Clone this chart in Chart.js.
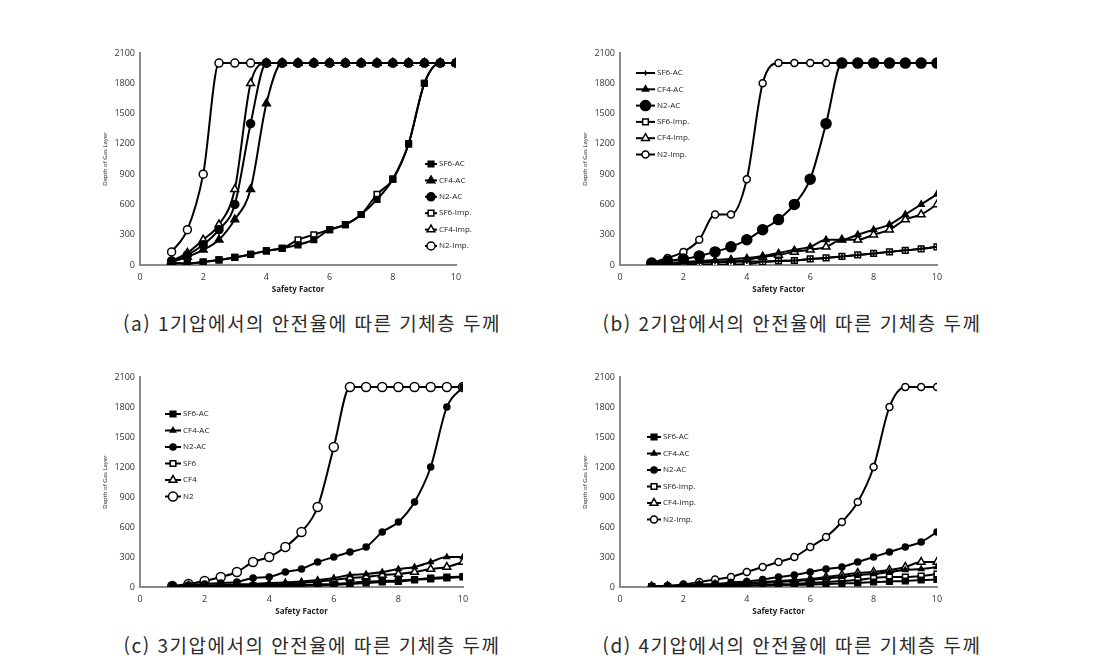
<!DOCTYPE html>
<html lang="ko">
<head>
  <meta charset="UTF-8" />
  <title>안전율에 따른 기체층 두께</title>
  <script src="https://cdn.jsdelivr.net/npm/chart.js"></script>
  <style>
    body { margin: 0; width: 1111px; height: 664px; background: #fff; position: relative; overflow: hidden; }
    .panel { position: absolute; }
    #pa { left: 100px; top: 40px; width: 380px; height: 262px; }
    #pb { left: 580px; top: 40px; width: 381px; height: 262px; }
    #pc { left: 100px; top: 364px; width: 387px; height: 260px; }
    #pd { left: 580px; top: 364px; width: 381px; height: 260px; }
    .caption {
      position: absolute; width: 480px; text-align: center;
      font-family: "Noto Sans CJK KR", sans-serif; font-size: 19px; font-weight: 400;
      letter-spacing: 1.5px; color: #2a2a2a;
    }
  </style>
</head>
<body>
  <div class="panel" id="pa"><canvas id="chartA"></canvas></div>
  <div class="panel" id="pb"><canvas id="chartB"></canvas></div>
  <div class="panel" id="pc"><canvas id="chartC"></canvas></div>
  <div class="panel" id="pd"><canvas id="chartD"></canvas></div>

  <div class="caption" style="left:72px; top:309px;">(a) 1기압에서의 안전율에 따른 기체층 두께</div>
  <div class="caption" style="left:552px; top:309px;">(b) 2기압에서의 안전율에 따른 기체층 두께</div>
  <div class="caption" style="left:72px; top:631px;">(c) 3기압에서의 안전율에 따른 기체층 두께</div>
  <div class="caption" style="left:552px; top:631px;">(d) 4기압에서의 안전율에 따른 기체층 두께</div>

  <script>
    // shared x values and ticks
    const safetyFactor = [1, 1.5, 2, 2.5, 3, 3.5, 4, 4.5, 5, 5.5, 6, 6.5, 7, 7.5, 8, 8.5, 9, 9.5, 10];
    const xTicks = [0, 2, 4, 6, 8, 10];
    const yTicks = [0, 300, 600, 900, 1200, 1500, 1800, 2100];

    // (a) 1 atm
    const aSf6Ac  = [20, 15, 30, 50, 75, 105, 140, 165, 200, 250, 350, 400, 500, 650, 850, 1200, 1800, 2000, 2000];
    const aCf4Ac  = [30, 80, 150, 250, 450, 750, 1600, 2000, 2000, 2000, 2000, 2000, 2000, 2000, 2000, 2000, 2000, 2000, 2000];
    const aN2Ac   = [40, 100, 200, 350, 600, 1400, 2000, 2000, 2000, 2000, 2000, 2000, 2000, 2000, 2000, 2000, 2000, 2000, 2000];
    const aSf6Imp = [20, 15, 30, 50, 75, 105, 140, 165, 250, 300, 350, 400, 500, 700, 850, 1200, 1800, 2000, 2000];
    const aCf4Imp = [40, 120, 250, 400, 750, 1800, 2000, 2000, 2000, 2000, 2000, 2000, 2000, 2000, 2000, 2000, 2000, 2000, 2000];
    const aN2Imp  = [130, 350, 900, 2000, 2000, 2000, 2000, 2000, 2000, 2000, 2000, 2000, 2000, 2000, 2000, 2000, 2000, 2000, 2000];

    // (b) 2 atm
    const bSf6Ac  = [10, 15, 20, 25, 30, 30, 35, 35, 40, 45, 60, 70, 85, 100, 115, 130, 145, 160, 180];
    const bCf4Ac  = [10, 20, 30, 40, 50, 60, 70, 90, 120, 150, 180, 250, 250, 300, 350, 400, 500, 600, 700];
    const bN2Ac   = [20, 40, 60, 90, 130, 180, 250, 350, 450, 600, 850, 1400, 2000, 2000, 2000, 2000, 2000, 2000, 2000];
    const bSf6Imp = [5, 5, 5, 5, 5, 5, 10, 30, 40, 45, 60, 70, 85, 100, 115, 130, 145, 160, 180];
    const bCf4Imp = [10, 15, 20, 25, 30, 40, 50, 80, 100, 130, 150, 180, 250, 250, 300, 350, 450, 500, 600];
    const bN2Imp  = [20, 70, 130, 250, 500, 500, 850, 1800, 2000, 2000, 2000, 2000, 2000, 2000, 2000, 2000, 2000, 2000, 2000];

    // (c) 3 atm
    const cSf6Ac = [10, 10, 10, 10, 10, 12, 15, 18, 20, 25, 30, 40, 55, 60, 65, 75, 90, 100, 105];
    const cCf4Ac = [5, 10, 15, 20, 25, 30, 40, 45, 55, 70, 90, 120, 130, 150, 180, 200, 250, 300, 300];
    const cN2Ac  = [10, 20, 30, 40, 50, 90, 100, 150, 180, 250, 300, 350, 400, 550, 650, 850, 1200, 1800, 2000];
    const cSf6   = [5, 5, 5, 5, 5, 5, 8, 10, 12, 15, 20, 30, 40, 50, 55, 70, 80, 90, 100];
    const cCf4   = [5, 8, 10, 12, 15, 20, 25, 30, 40, 55, 70, 90, 100, 120, 130, 150, 180, 200, 250];
    const cN2    = [10, 30, 60, 100, 150, 250, 300, 400, 550, 800, 1400, 2000, 2000, 2000, 2000, 2000, 2000, 2000, 2000];

    // (d) 4 atm
    const dSf6Ac  = [5, 5, 5, 5, 8, 10, 12, 15, 18, 20, 25, 30, 35, 40, 50, 55, 60, 70, 75];
    const dCf4Ac  = [5, 8, 10, 15, 20, 25, 30, 40, 50, 60, 70, 85, 100, 120, 130, 150, 170, 180, 200];
    const dN2Ac   = [5, 10, 15, 25, 30, 45, 55, 75, 100, 120, 150, 180, 200, 250, 300, 350, 400, 450, 550];
    const dSf6Imp = [5, 5, 5, 8, 10, 12, 15, 20, 25, 30, 40, 50, 60, 70, 90, 100, 100, 110, 130];
    const dCf4Imp = [5, 8, 12, 18, 25, 30, 40, 50, 60, 70, 80, 100, 120, 140, 150, 170, 200, 250, 250];
    const dN2Imp  = [5, 10, 25, 50, 75, 100, 150, 200, 250, 300, 400, 500, 650, 850, 1200, 1800, 2000, 2000, 2000];

    const tickFont = { family: "'Open Sans', sans-serif", size: 9 };

    function series(label, data, style, radius, filled) {
      return {
        label: label,
        data: data,
        borderColor: "#000",
        borderWidth: 2,
        pointStyle: style,
        pointRadius: radius,
        pointHoverRadius: radius,
        pointBorderColor: "#000",
        pointBorderWidth: 1.5,
        pointBackgroundColor: filled ? "#000" : "#fff",
        cubicInterpolationMode: "monotone"
      };
    }

    // legend drawn inside the plot, like the original figure
    const insideLegend = {
      id: "insideLegend",
      afterDatasetsDraw(chart, args, opts) {
        const ctx = chart.ctx;
        ctx.save();
        ctx.font = "8px 'Open Sans', sans-serif";
        ctx.textBaseline = "middle";
        chart.data.datasets.forEach((ds, i) => {
          const y = opts.y + i * opts.gap;
          ctx.strokeStyle = "#000";
          ctx.lineWidth = 2;
          ctx.beginPath();
          ctx.moveTo(opts.x, y);
          ctx.lineTo(opts.x + opts.len, y);
          ctx.stroke();
          ctx.fillStyle = ds.pointBackgroundColor;
          ctx.lineWidth = 1.5;
          Chart.helpers.drawPoint(ctx, { pointStyle: ds.pointStyle, radius: ds.pointRadius, borderWidth: 1.5, rotation: 0 }, opts.x + opts.len / 2, y);
          ctx.fillStyle = "#222";
          ctx.fillText(ds.label, opts.x + opts.len + 2, y);
        });
        ctx.restore();
      }
    };

    function makeChart(id, datasets, legendPos) {
      new Chart(document.getElementById(id), {
        type: "line",
        data: { labels: safetyFactor, datasets: datasets },
        plugins: [insideLegend],
        options: {
          responsive: true,
          maintainAspectRatio: false,
          animation: false,
          layout: { padding: { top: 13, left: 0, right: 24, bottom: 3 } },
          plugins: {
            legend: { display: false },
            tooltip: { enabled: false },
            insideLegend: legendPos
          },
          scales: {
            x: {
              type: "linear", min: 0, max: 10,
              afterFit: s => { s.height = 34; },
              afterBuildTicks: s => { s.ticks = xTicks.map(v => ({ value: v })); },
              grid: { display: false, drawTicks: false },
              border: { display: true, color: "#8c8c8c", width: 2 },
              ticks: { font: tickFont, color: "#333", padding: 7, callback: v => String(v) },
              title: { display: true, text: "Safety Factor", font: { family: "'Open Sans', sans-serif", size: 8, weight: "bold" }, color: "#222", padding: { top: 2, bottom: 4 } }
            },
            y: {
              min: 0, max: 2100,
              afterFit: s => { s.width = 40; },
              afterBuildTicks: s => { s.ticks = yTicks.map(v => ({ value: v })); },
              grid: { display: false, drawTicks: false },
              border: { display: true, color: "#8c8c8c", width: 2 },
              ticks: { font: tickFont, color: "#333", padding: 5, callback: v => String(v) },
              title: { display: true, text: "Depth of Gas Layer", font: { family: "'Open Sans', sans-serif", size: 6 }, color: "#222", padding: { top: 2, bottom: 2 } }
            }
          }
        }
      });
    }

    makeChart("chartA", [
      series("SF6-AC", aSf6Ac, "rect", 4, true),
      series("CF4-AC", aCf4Ac, "triangle", 4.5, true),
      series("N2-AC", aN2Ac, "circle", 4, true),
      series("SF6-Imp.", aSf6Imp, "rect", 4, false),
      series("CF4-Imp.", aCf4Imp, "triangle", 4.5, false),
      series("N2-Imp.", aN2Imp, "circle", 4, false)
    ], { x: 325, y: 124, gap: 16.4, len: 12 });

    makeChart("chartB", [
      series("SF6-AC", bSf6Ac, "cross", 2.5, true),
      series("CF4-AC", bCf4Ac, "triangle", 3.5, true),
      series("N2-AC", bN2Ac, "circle", 5, true),
      series("SF6-Imp.", bSf6Imp, "rect", 4, false),
      series("CF4-Imp.", bCf4Imp, "triangle", 4.5, false),
      series("N2-Imp.", bN2Imp, "circle", 3.5, false)
    ], { x: 56, y: 33, gap: 16.3, len: 19 });

    makeChart("chartC", [
      series("SF6-AC", cSf6Ac, "rect", 4, true),
      series("CF4-AC", cCf4Ac, "triangle", 3, true),
      series("N2-AC", cN2Ac, "circle", 3, true),
      series("SF6", cSf6, "rect", 4, false),
      series("CF4", cCf4, "triangle", 4.5, false),
      series("N2", cN2, "circle", 4.5, false)
    ], { x: 65, y: 50, gap: 16.5, len: 16 });

    makeChart("chartD", [
      series("SF6-AC", dSf6Ac, "rect", 4, true),
      series("CF4-AC", dCf4Ac, "triangle", 3, true),
      series("N2-AC", dN2Ac, "circle", 3, true),
      series("SF6-Imp.", dSf6Imp, "rect", 4, false),
      series("CF4-Imp.", dCf4Imp, "triangle", 4.5, false),
      series("N2-Imp.", dN2Imp, "circle", 3.5, false)
    ], { x: 67, y: 73, gap: 16.5, len: 14 });
  </script>
</body>
</html>
